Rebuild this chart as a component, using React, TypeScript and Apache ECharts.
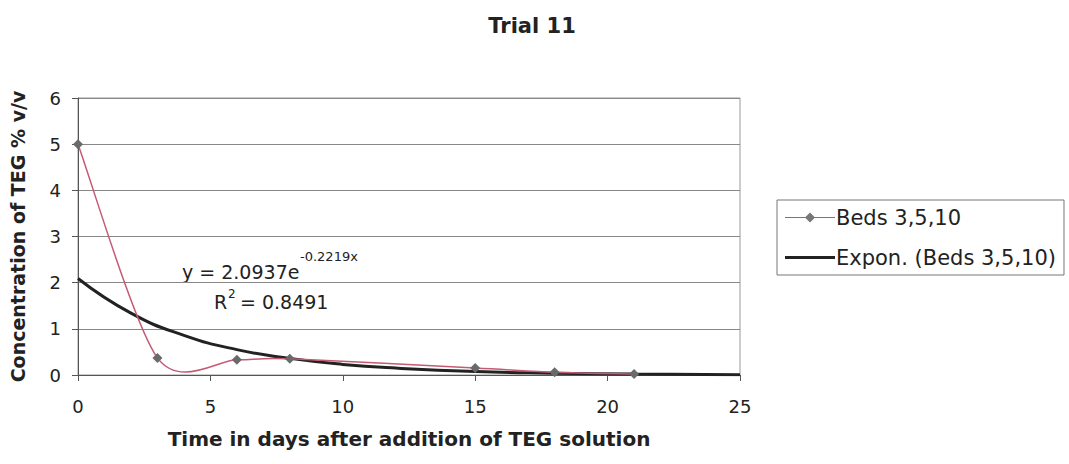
import React, { useEffect, useRef } from "react";
import * as echarts from "echarts";

const bedsX = [0, 3, 6, 8, 15, 18, 21];
const bedsY = [5, 0.37, 0.33, 0.35, 0.15, 0.06, 0.02];
const trendX = [0, 2, 4, 6, 8, 10, 12, 15, 18, 21, 25];
const trendY = [2.09, 1.34, 0.86, 0.55, 0.36, 0.23, 0.15, 0.075, 0.04, 0.02, 0.008];
const xTicks = [0, 5, 10, 15, 20, 25];
const yTicks = [0, 1, 2, 3, 4, 5, 6];

const FONT = "DejaVu Sans, Verdana, sans-serif";
const RED = "#c45a74";

export default function App() {
  const ref = useRef<HTMLDivElement>(null);
  useEffect(() => {
    if (!ref.current) return;
    const chart = echarts.init(ref.current, undefined, { renderer: "svg" });
    const pts = bedsX.map((x, i) => [x, bedsY[i]]);
    chart.setOption({
      animation: false,
      backgroundColor: "#fff",
      textStyle: { fontFamily: FONT },
      title: {
        text: "Trial 11",
        left: 527,
        top: 10,
        textAlign: "center",
        textStyle: { fontSize: 21, fontWeight: "bold", color: "#222", fontFamily: FONT },
      },
      grid: {
        left: 77,
        right: 329,
        top: 98,
        bottom: 89,
        show: true,
        borderColor: "#999",
        borderWidth: 1,
      },
      legend: {
        orient: "vertical",
        left: 777,
        top: 200,
        padding: [7, 8, 7, 8],
        itemGap: 19,
        itemWidth: 50,
        itemHeight: 14,
        borderColor: "#777",
        borderWidth: 1,
        textStyle: { fontSize: 21, color: "#222", fontFamily: FONT, padding: [0, 0, 0, -4] },
        data: [
          {
            name: "Beds 3,5,10",
            icon: "path://M0,7H50V8H0Z M25,2.5L30,7.5L25,12.5L20,7.5Z",
            itemStyle: { color: "#777", borderWidth: 0 },
          },
          {
            name: "Expon. (Beds 3,5,10)",
            icon: "path://M0,0H50V3H0Z",
            itemStyle: { color: "#222", borderWidth: 0 },
          },
        ],
      },
      xAxis: {
        type: "value",
        min: xTicks[0],
        max: xTicks[xTicks.length - 1],
        interval: 5,
        name: "Time in days after addition of TEG solution",
        nameLocation: "middle",
        nameGap: 54,
        nameTextStyle: { fontSize: 20, fontWeight: "bold", color: "#222", fontFamily: FONT },
        axisLine: { lineStyle: { color: "#555" } },
        axisTick: { show: true, length: 6, lineStyle: { color: "#555" } },
        axisLabel: { fontSize: 18, color: "#222", margin: 22, fontFamily: FONT },
        splitLine: { show: false },
      },
      yAxis: {
        type: "value",
        min: yTicks[0],
        max: yTicks[yTicks.length - 1],
        interval: 1,
        name: "Concentration of TEG % v/v",
        nameLocation: "middle",
        nameGap: 51,
        nameTextStyle: { fontSize: 19, fontWeight: "bold", color: "#222", fontFamily: FONT },
        axisLine: { show: true, lineStyle: { color: "#555" } },
        axisTick: { show: true, length: 6, lineStyle: { color: "#555" } },
        axisLabel: { fontSize: 18, color: "#222", margin: 17, fontFamily: FONT },
        splitLine: { show: true, lineStyle: { color: "#888", width: 1 } },
      },
      series: [
        {
          name: "Beds curve",
          type: "custom",
          data: pts,
          z: 3,
          renderItem: (params: any, api: any) => {
            const i = params.dataIndex;
            const n = pts.length;
            if (i >= n - 1) return { type: "group", children: [] };
            const c = (k: number) => api.coord(pts[Math.max(0, Math.min(n - 1, k))]);
            const p0 = c(i - 1);
            const p1 = c(i);
            const p2 = c(i + 1);
            const p3 = c(i + 2);
            const t = 7;
            return {
              type: "bezierCurve",
              shape: {
                x1: p1[0],
                y1: p1[1],
                cpx1: p1[0] + (p2[0] - p0[0]) / t,
                cpy1: p1[1] + (p2[1] - p0[1]) / t,
                cpx2: p2[0] - (p3[0] - p1[0]) / t,
                cpy2: p2[1] - (p3[1] - p1[1]) / t,
                x2: p2[0],
                y2: p2[1],
              },
              style: { stroke: RED, fill: "none", lineWidth: 1.5 },
            };
          },
        },
        {
          name: "Beds 3,5,10",
          type: "line",
          data: pts,
          symbol: "diamond",
          symbolSize: 10,
          lineStyle: { color: RED, width: 0, opacity: 0 },
          itemStyle: { color: "#6a6a6a" },
          z: 4,
        },
        {
          name: "Expon. (Beds 3,5,10)",
          type: "line",
          smooth: true,
          data: trendX.map((x, i) => [x, trendY[i]]),
          symbol: "none",
          lineStyle: { color: "#222", width: 3 },
          itemStyle: { color: "#222" },
          z: 2,
        },
      ],
      graphic: [
        {
          type: "text",
          x: 182,
          y: 272,
          style: { text: "y = 2.0937e", fontSize: 19, fill: "#222", fontFamily: FONT, textVerticalAlign: "middle" },
        },
        {
          type: "text",
          x: 300,
          y: 256,
          style: { text: "-0.2219x", fontSize: 13, fill: "#222", fontFamily: FONT, textVerticalAlign: "middle" },
        },
        {
          type: "text",
          x: 214,
          y: 302,
          style: { text: "R", fontSize: 19, fill: "#222", fontFamily: FONT, textVerticalAlign: "middle" },
        },
        {
          type: "text",
          x: 228,
          y: 294,
          style: { text: "2", fontSize: 12, fill: "#222", fontFamily: FONT, textVerticalAlign: "middle" },
        },
        {
          type: "text",
          x: 240,
          y: 302,
          style: { text: "= 0.8491", fontSize: 19, fill: "#222", fontFamily: FONT, textVerticalAlign: "middle" },
        },
      ],
    });
    return () => chart.dispose();
  }, []);
  return <div ref={ref} style={{ width: 1069, height: 464, position: "absolute", left: 0, top: 0 }} />;
}
